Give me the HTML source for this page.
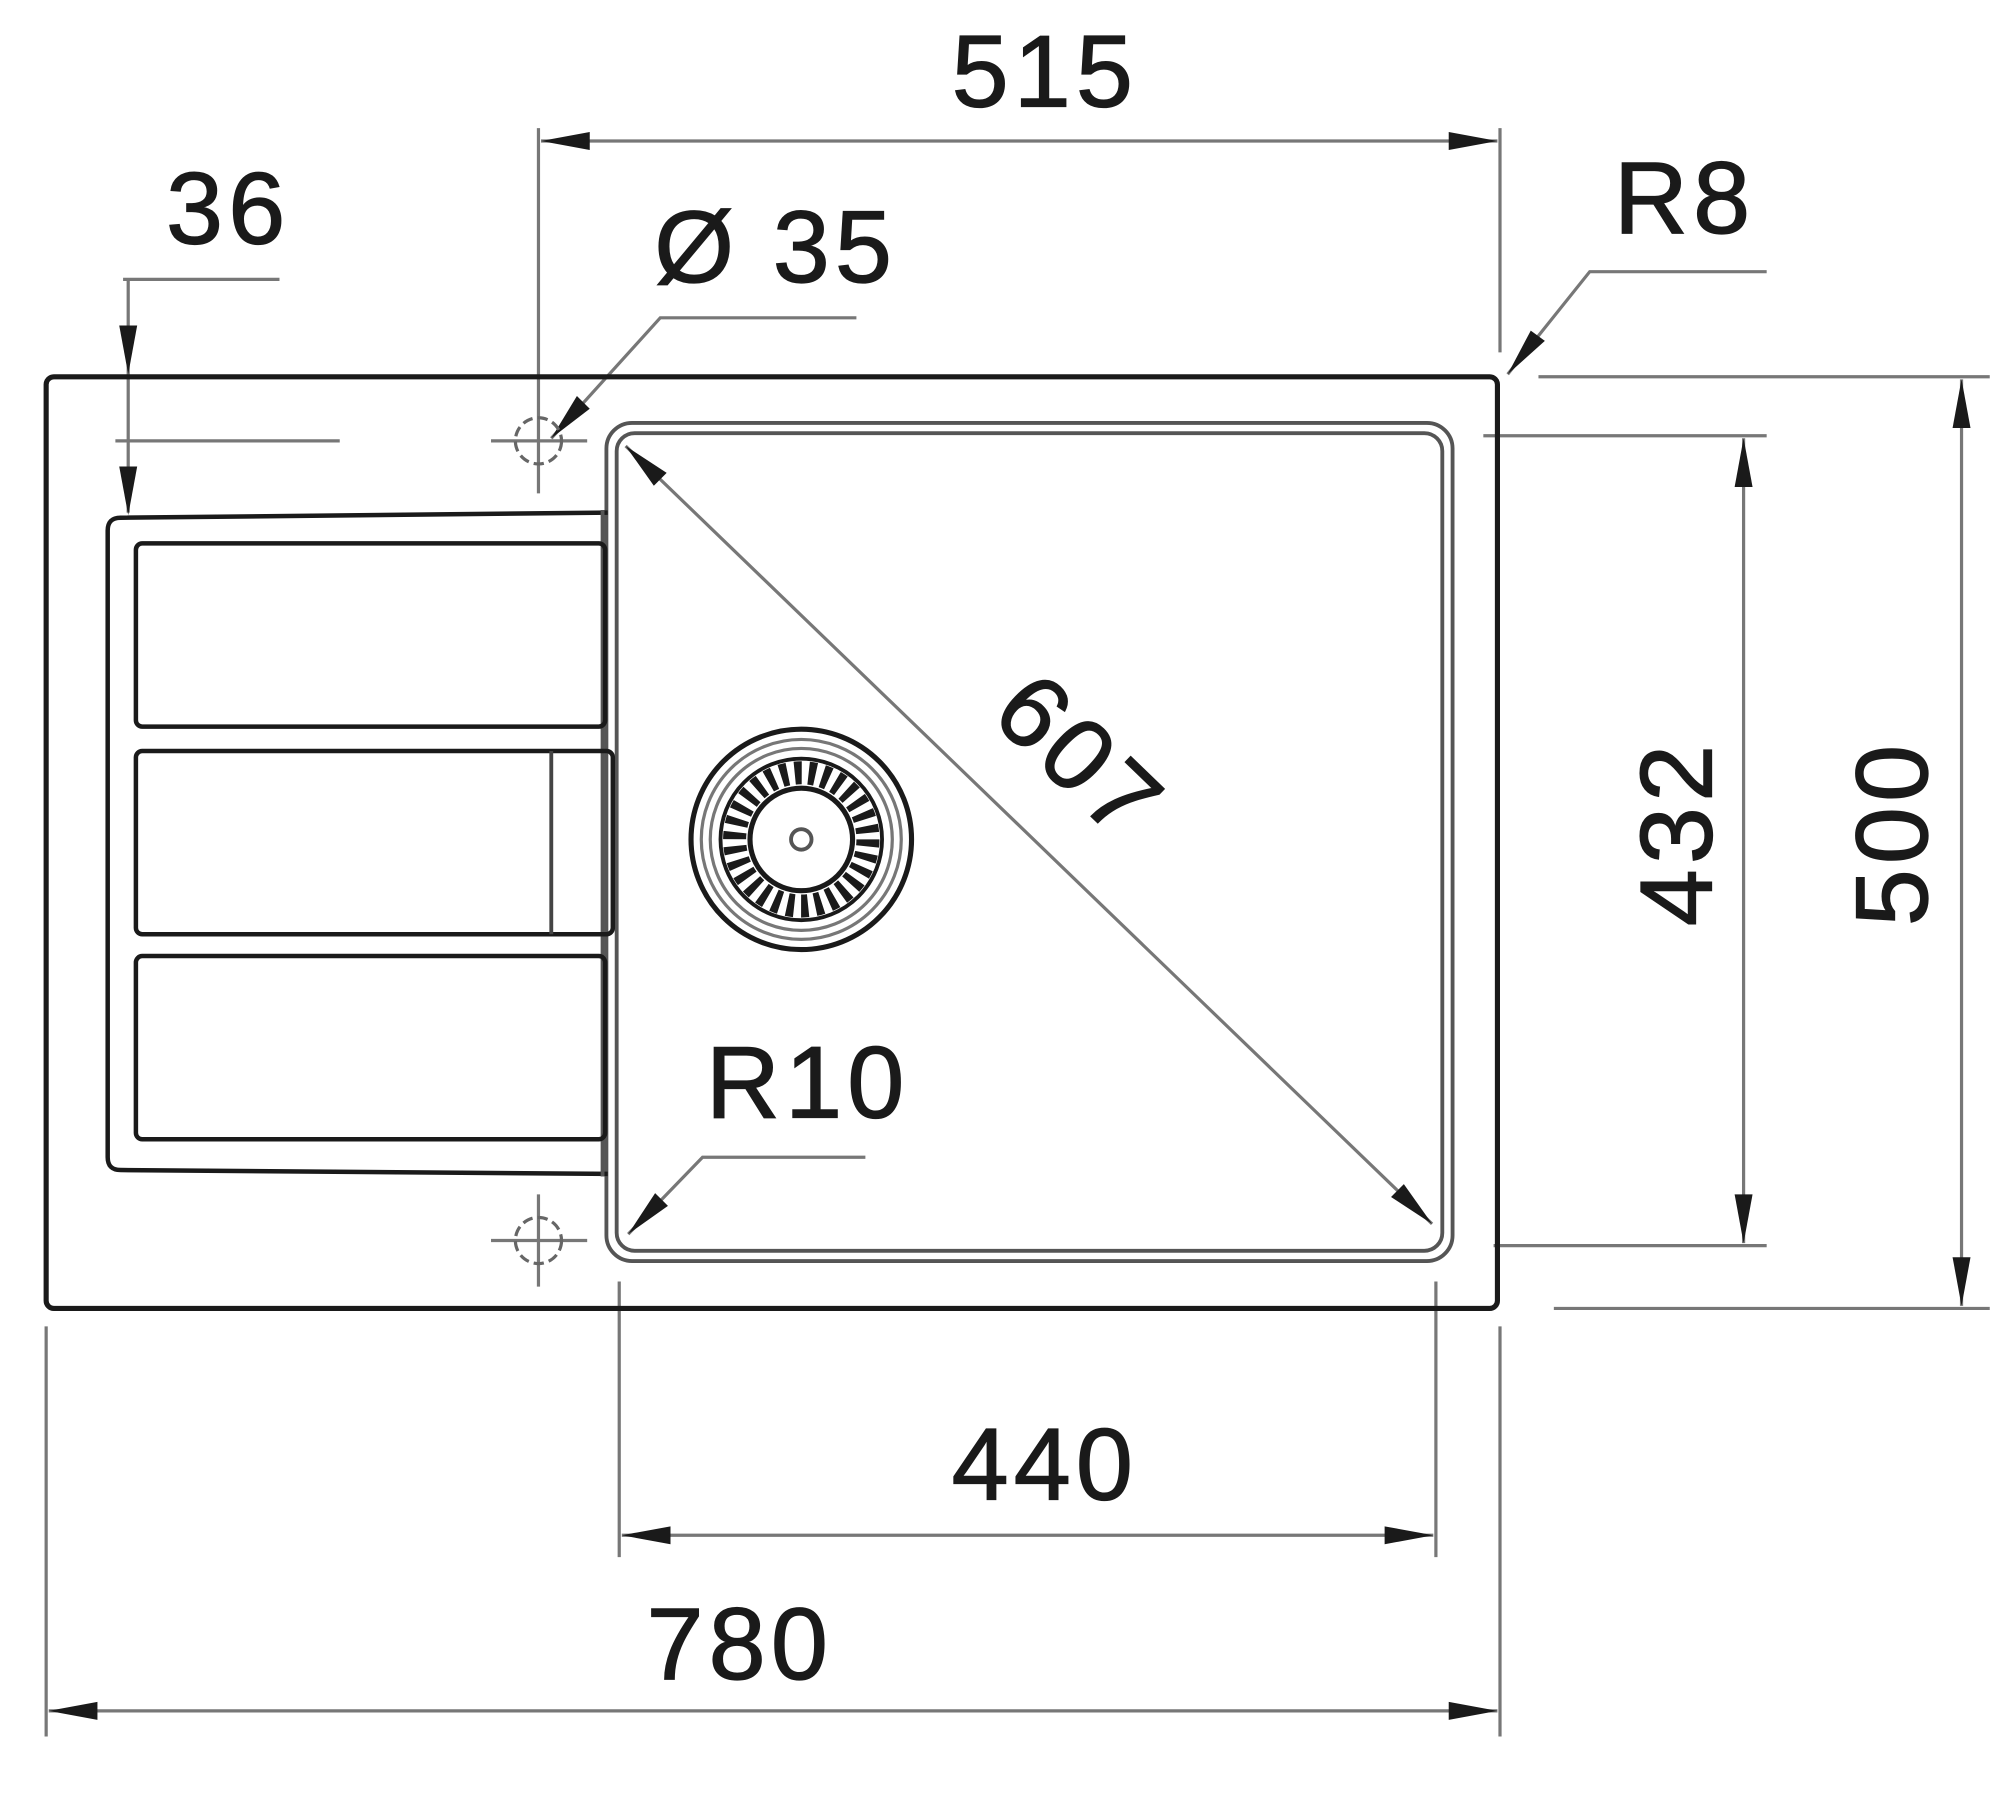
<!DOCTYPE html>
<html><head><meta charset="utf-8"><style>html,body{margin:0;padding:0;background:#fff}svg{display:block}</style></head>
<body>
<svg width="2000" height="1798" viewBox="0 0 1560 1403" preserveAspectRatio="none" xmlns="http://www.w3.org/2000/svg">
<g font-family="Liberation Sans, Arial, sans-serif" font-size="80" fill="#1a1a1a" stroke="#1a1a1a" stroke-width="1" letter-spacing="4">
<text x="815" y="83" text-anchor="middle">515</text>
<text x="178" y="190" text-anchor="middle">36</text>
<text x="605" y="220" text-anchor="middle">Ø 35</text>
<text x="1314" y="182" text-anchor="middle">R8</text>
<text x="630" y="872" text-anchor="middle">R10</text>
<text x="815" y="1170" text-anchor="middle">440</text>
<text x="577" y="1310" text-anchor="middle">780</text>
<text transform="translate(1335,650) rotate(-90)" text-anchor="middle">432</text>
<text transform="translate(1503,650) rotate(-90)" text-anchor="middle">500</text>
<text transform="translate(838,595) rotate(44)" text-anchor="middle" dominant-baseline="middle">607</text>
</g>
<g stroke="#777" stroke-width="2.5" fill="none">
<line x1="420" y1="100" x2="420" y2="385"/>
<line x1="1170" y1="100" x2="1170" y2="275"/>
<line x1="422" y1="110" x2="1168" y2="110"/>
<line x1="96" y1="218" x2="218" y2="218"/>
<line x1="100" y1="218" x2="100" y2="400"/>
<line x1="90" y1="344" x2="265" y2="344"/>
<line x1="383" y1="344" x2="458" y2="344"/>
<line x1="383" y1="968" x2="458" y2="968"/>
<line x1="420" y1="932" x2="420" y2="1004"/>
<polyline points="430,342 515,248 668,248"/>
<polyline points="1176,292 1240,212 1378,212"/>
<polyline points="490,963 548,903 675,903"/>
<line x1="1200" y1="294" x2="1552" y2="294"/>
<line x1="1212" y1="1021" x2="1552" y2="1021"/>
<line x1="1530" y1="296" x2="1530" y2="1019"/>
<line x1="1157" y1="340" x2="1378" y2="340"/>
<line x1="1165" y1="972" x2="1378" y2="972"/>
<line x1="1360" y1="342" x2="1360" y2="970"/>
<line x1="488" y1="348" x2="1117" y2="955"/>
<line x1="483" y1="1000" x2="483" y2="1215"/>
<line x1="1120" y1="1000" x2="1120" y2="1215"/>
<line x1="485" y1="1198" x2="1118" y2="1198"/>
<line x1="36" y1="1035" x2="36" y2="1355"/>
<line x1="1170" y1="1035" x2="1170" y2="1355"/>
<line x1="38" y1="1335" x2="1168" y2="1335"/>
</g>
<g fill="#1a1a1a">
<polygon points="422,110 460,103 460,117"/>
<polygon points="1168,110 1130,103 1130,117"/>
<polygon points="100,292 93,254 107,254"/>
<polygon points="100,402 93,364 107,364"/>
<polygon points="430,342 460,319 450,309"/>
<polygon points="1176,292 1205,266 1194,258"/>
<polygon points="490,963 521,941 511,931"/>
<polygon points="1530,296 1523,334 1537,334"/>
<polygon points="1530,1019 1523,981 1537,981"/>
<polygon points="1360,342 1353,380 1367,380"/>
<polygon points="1360,970 1353,932 1367,932"/>
<polygon points="488,348 510,379 520,369"/>
<polygon points="1117,955 1085,934 1095,924"/>
<polygon points="485,1198 523,1191 523,1205"/>
<polygon points="1118,1198 1080,1191 1080,1205"/>
<polygon points="38,1335 76,1328 76,1342"/>
<polygon points="1168,1335 1130,1328 1130,1342"/>
</g>
<rect x="36" y="294" width="1132" height="727" rx="6" fill="none" stroke="#1a1a1a" stroke-width="4"/>
<rect x="473" y="330" width="660" height="654" rx="20" fill="none" stroke="#555" stroke-width="3"/>
<rect x="481" y="338" width="644" height="638" rx="14" fill="none" stroke="#555" stroke-width="3"/>
<path d="M474,400 L94,404 Q84,404 84,414 L84,903 Q84,913 94,913 L474,916" fill="none" stroke="#1a1a1a" stroke-width="3.5"/>
<line x1="470" y1="398" x2="470" y2="918" stroke="#555" stroke-width="3"/>
<rect x="106" y="424" width="366" height="143" rx="5" fill="none" stroke="#1a1a1a" stroke-width="3.5"/>
<rect x="106" y="586" width="372" height="143" rx="5" fill="none" stroke="#1a1a1a" stroke-width="3.5"/>
<line x1="430" y1="586" x2="430" y2="729" stroke="#444" stroke-width="3"/>
<rect x="106" y="746" width="366" height="143" rx="5" fill="none" stroke="#1a1a1a" stroke-width="3.5"/>
<g fill="none" stroke="#666" stroke-width="2.5" stroke-dasharray="8 4">
<circle cx="420" cy="344" r="18"/>
<circle cx="420" cy="968" r="18"/>
</g>
<g fill="none">
<circle cx="625" cy="655" r="86" stroke="#1a1a1a" stroke-width="4"/>
<circle cx="625" cy="655" r="78" stroke="#777" stroke-width="2.5"/>
<circle cx="625" cy="655" r="71" stroke="#777" stroke-width="2.5"/>
<circle cx="625" cy="655" r="52" stroke="#1a1a1a" stroke-width="18" stroke-dasharray="5.5 5.4"/>
<circle cx="625" cy="655" r="63" stroke="#1a1a1a" stroke-width="3"/>
<circle cx="625" cy="655" r="40" stroke="#1a1a1a" stroke-width="4"/>
<circle cx="625" cy="655" r="8" stroke="#555" stroke-width="3"/>
</g>
</svg>
</body></html>
